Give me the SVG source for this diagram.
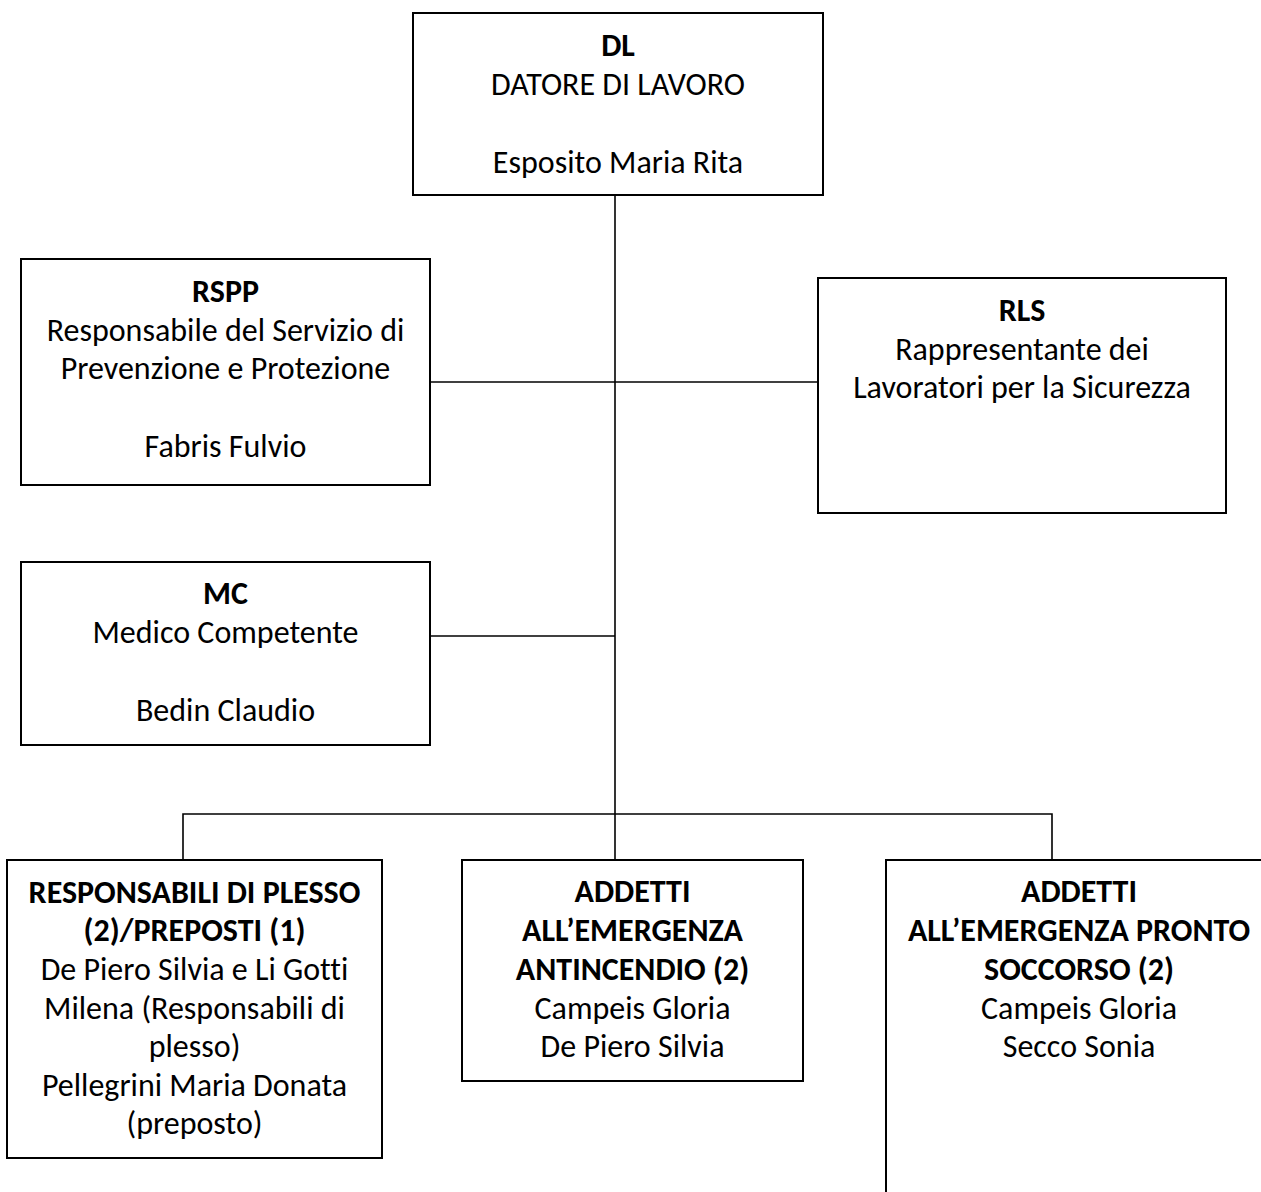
<svg xmlns="http://www.w3.org/2000/svg" width="1261" height="1192" viewBox="0 0 1261 1192">
<style>
.box{fill:#fff;stroke:#000;stroke-width:2}
.ln{stroke:#000;stroke-width:1.6;fill:none}
text{font-family:Carlito,Lato,"Liberation Sans",sans-serif;font-size:32px;fill:#000;text-anchor:middle;font-variant-ligatures:none}
.b{font-weight:bold}
</style>
<rect width="1261" height="1192" fill="#fff"/>
<g id="connectors">
<line class="ln" x1="615" y1="195" x2="615" y2="814"/>
<line class="ln" x1="430" y1="382" x2="818" y2="382"/>
<line class="ln" x1="430" y1="636" x2="615" y2="636"/>
<polyline class="ln" points="183,859 183,814 1052,814 1052,859"/>
<line class="ln" x1="615" y1="814" x2="615" y2="859"/>
</g>
<g id="dl">
<rect class="box" x="413" y="13" width="410" height="182"/>
<text class="b" x="618" y="56">DL</text>
<text x="618" y="95">DATORE DI LAVORO</text>
<text x="618" y="173">Esposito Maria Rita</text>
</g>
<g id="rspp">
<rect class="box" x="21" y="259" width="409" height="226"/>
<text class="b" x="225.5" y="302">RSPP</text>
<text x="225.5" y="341">Responsabile del Servizio di</text>
<text x="225.5" y="379">Prevenzione e Protezione</text>
<text x="225.5" y="457">Fabris Fulvio</text>
</g>
<g id="rls">
<rect class="box" x="818" y="278" width="408" height="235"/>
<text class="b" x="1022" y="321">RLS</text>
<text x="1022" y="360">Rappresentante dei</text>
<text x="1022" y="398">Lavoratori per la Sicurezza</text>
</g>
<g id="mc">
<rect class="box" x="21" y="562" width="409" height="183"/>
<text class="b" x="225.5" y="604">MC</text>
<text x="225.5" y="643">Medico Competente</text>
<text x="225.5" y="721">Bedin Claudio</text>
</g>
<g id="preposti">
<rect class="box" x="7" y="860" width="375" height="298"/>
<text class="b" x="194.5" y="903">RESPONSABILI DI PLESSO</text>
<text class="b" x="194.5" y="941">(2)/PREPOSTI (1)</text>
<text x="194.5" y="980">De Piero Silvia e Li Gotti</text>
<text x="194.5" y="1019">Milena (Responsabili di</text>
<text x="194.5" y="1057">plesso)</text>
<text x="194.5" y="1096">Pellegrini Maria Donata</text>
<text x="194.5" y="1134">(preposto)</text>
</g>
<g id="antincendio">
<rect class="box" x="462" y="860" width="341" height="221"/>
<text class="b" x="632.5" y="902">ADDETTI</text>
<text class="b" x="632.5" y="941">ALL’EMERGENZA</text>
<text class="b" x="632.5" y="980">ANTINCENDIO (2)</text>
<text x="632.5" y="1019">Campeis Gloria</text>
<text x="632.5" y="1057">De Piero Silvia</text>
</g>
<g id="pronto-soccorso">
<rect class="box" x="886" y="860" width="390" height="345"/>
<text class="b" x="1079" y="902">ADDETTI</text>
<text class="b" x="1079" y="941">ALL’EMERGENZA PRONTO</text>
<text class="b" x="1079" y="980">SOCCORSO (2)</text>
<text x="1079" y="1019">Campeis Gloria</text>
<text x="1079" y="1057">Secco Sonia</text>
</g>
</svg>
